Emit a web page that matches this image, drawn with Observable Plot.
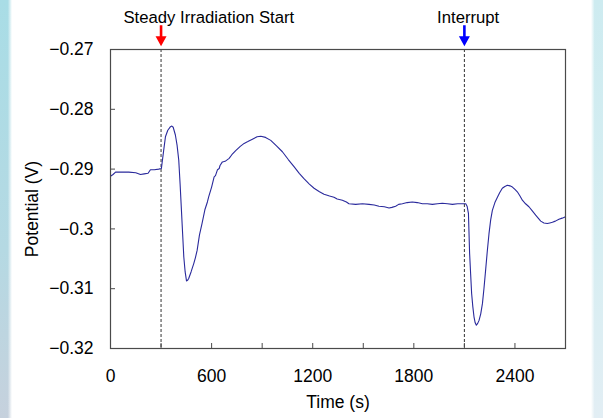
<!DOCTYPE html>
<html><head><meta charset="utf-8">
<script src="https://cdn.jsdelivr.net/npm/d3@7"></script>
<script src="https://cdn.jsdelivr.net/npm/@observablehq/plot@0.6"></script>
<style>
html,body{margin:0;padding:0;background:#fff;}
#wrap{position:relative;width:603px;height:418px;overflow:hidden;background:#fff;}
.band{position:absolute;top:0;height:418px;z-index:2;}
#bl{left:0;width:12px;background:linear-gradient(to right, rgba(255,255,255,0) 65%, rgba(255,255,255,1) 100%), linear-gradient(to bottom, #a9dde6, #b5d9e3 60%, #c6d1dd);}
#br{left:591px;width:12px;background:linear-gradient(to left, rgba(255,255,255,0) 70%, rgba(255,255,255,1) 100%), linear-gradient(to bottom, #cdebf0, #d7eef2 60%, #e2eef4);}
</style></head>
<body>
<div id="wrap"><div class="band" id="bl"></div><div class="band" id="br"></div></div>
<script>
// Measured trace (time in s, potential in V)
const times = [0,15,30,70,108,150,178,200,223,237,260,286,302,315,326,340,356,364,372,385,395,405,413,421,428,435,443,451,457,464,478,494,504,514,528,543,560,575,583,600,615,623,635,645,650,664,680,704,720,743,770,793,815,842,870,892,920,951,985,1020,1055,1089,1120,1148,1180,1208,1240,1267,1300,1326,1345,1376,1400,1415,1455,1495,1534,1565,1593,1625,1653,1670,1692,1710,1732,1760,1791,1820,1851,1880,1910,1940,1969,2000,2029,2060,2098,2108,2116,2124,2131,2137,2143,2150,2157,2164,2171,2179,2187,2197,2207,2216,2226,2236,2246,2256,2266,2281,2296,2310,2325,2340,2355,2370,2385,2400,2414,2430,2444,2463,2483,2503,2523,2538,2553,2572,2592,2607,2622,2640,2661,2680,2697];
const volts = [-0.2912,-0.2909,-0.2905,-0.2905,-0.2905,-0.2906,-0.2909,-0.2908,-0.2907,-0.2901,-0.2901,-0.2900,-0.2899,-0.2870,-0.2846,-0.2835,-0.2829,-0.2828,-0.2830,-0.2843,-0.2860,-0.2885,-0.2925,-0.2969,-0.3008,-0.3047,-0.3072,-0.3087,-0.3086,-0.3083,-0.3072,-0.3058,-0.3048,-0.3036,-0.3010,-0.2991,-0.2968,-0.2955,-0.2946,-0.2930,-0.2913,-0.2911,-0.2901,-0.2899,-0.2894,-0.2888,-0.2887,-0.2882,-0.2876,-0.2869,-0.2862,-0.2857,-0.2854,-0.2850,-0.2846,-0.2845,-0.2847,-0.2852,-0.2861,-0.2871,-0.2884,-0.2896,-0.2907,-0.2916,-0.2925,-0.2932,-0.2938,-0.2942,-0.2945,-0.2947,-0.2950,-0.2952,-0.2955,-0.2958,-0.2959,-0.2958,-0.2959,-0.2960,-0.2962,-0.2963,-0.2965,-0.2964,-0.2962,-0.2959,-0.2958,-0.2956,-0.2955,-0.2956,-0.2958,-0.2958,-0.2959,-0.2958,-0.2957,-0.2958,-0.2959,-0.2958,-0.2958,-0.2958,-0.2962,-0.2974,-0.3041,-0.3075,-0.3108,-0.3130,-0.3147,-0.3157,-0.3161,-0.3158,-0.3153,-0.3142,-0.3125,-0.3100,-0.3069,-0.3037,-0.3008,-0.2985,-0.2969,-0.2956,-0.2947,-0.2939,-0.2932,-0.2929,-0.2927,-0.2928,-0.2930,-0.2934,-0.2938,-0.2945,-0.2952,-0.2958,-0.2963,-0.2970,-0.2977,-0.2982,-0.2987,-0.2990,-0.2991,-0.2990,-0.2989,-0.2987,-0.2984,-0.2982,-0.2980];

const xTickValues = [300,600,900,1200,1500,1800,2100,2400];
const xLabelValues = [0,600,1200,1800,2400];
const yTickValues = [-0.32,-0.31,-0.30,-0.29,-0.28,-0.27];

const eventTimes = [300, 2100];
const eventLabels = ["Steady Irradiation Start", "Interrupt"];
const eventColors = ["#ff0000", "#0000ff"];

const data = times.map((t, i) => ({t, v: volts[i]}));
const events = eventTimes.map((t, i) => ({t, label: eventLabels[i], color: eventColors[i], top: -0.27}));

// downward arrow symbol with tip at origin
const arrowSymbol = {
  draw(ctx) {
    ctx.moveTo(0, 0);
    ctx.lineTo(-5.5, -10);
    ctx.lineTo(-1.3, -10);
    ctx.lineTo(-1.3, -21);
    ctx.lineTo(1.3, -21);
    ctx.lineTo(1.3, -10);
    ctx.lineTo(5.5, -10);
    ctx.closePath();
  }
};

const fmt = d3.format("");

const chart = Plot.plot({
  width: 603,
  height: 418,
  marginLeft: 110,
  marginRight: 38,
  marginTop: 49,
  marginBottom: 70,
  x: {domain: [0, 2700]},
  y: {domain: [-0.32, -0.27]},
  color: {type: "identity"},
  style: {fontFamily: "'Liberation Sans', Arial, sans-serif", fontSize: "17.5px", color: "#000", background: "transparent"},
  marks: [
    Plot.ruleX(events, {x: "t", stroke: "#333", strokeWidth: 1, strokeDasharray: "3,2"}),
    Plot.line(data, {x: "t", y: "v", stroke: "#2a2a9c", strokeWidth: 1.1}),
    Plot.frame({stroke: "#4a4a4a", strokeWidth: 1.2}),
    Plot.axisX(xTickValues, {tickSize: -5, text: null, label: null, stroke: "#4a4a4a"}),
    Plot.axisX(xLabelValues, {tickSize: 0, tickPadding: 21, label: null, fill: "#000", tickFormat: fmt}),
    Plot.axisY(yTickValues, {tickSize: -5, text: null, label: null, stroke: "#4a4a4a"}),
    Plot.axisY(yTickValues, {tickSize: 0, tickPadding: 17, label: null, fill: "#000", tickFormat: fmt}),
    Plot.dot(events, {x: "t", y: "top", symbol: arrowSymbol, fill: "color", stroke: null, dy: -3.3}),
    Plot.text([events[0]], {x: "t", y: "top", text: "label", textAnchor: "start", lineAnchor: "bottom", dx: -37.6, dy: -26.6, fontSize: 16.7, fill: "#000"}),
    Plot.text([events[1]], {x: "t", y: "top", text: "label", textAnchor: "start", lineAnchor: "bottom", dx: -27.3, dy: -26.6, fontSize: 16.7, fill: "#000"}),
    Plot.text(["Time (s)"], {frameAnchor: "bottom", text: d => d, textAnchor: "middle", lineAnchor: "middle", dy: 54, fill: "#000"}),
    Plot.text(["Potential (V)"], {frameAnchor: "left", text: d => d, rotate: -90, textAnchor: "middle", lineAnchor: "middle", dx: -78, dy: 10, fill: "#000"})
  ]
});
document.getElementById("wrap").appendChild(chart);
</script>
</body></html>
